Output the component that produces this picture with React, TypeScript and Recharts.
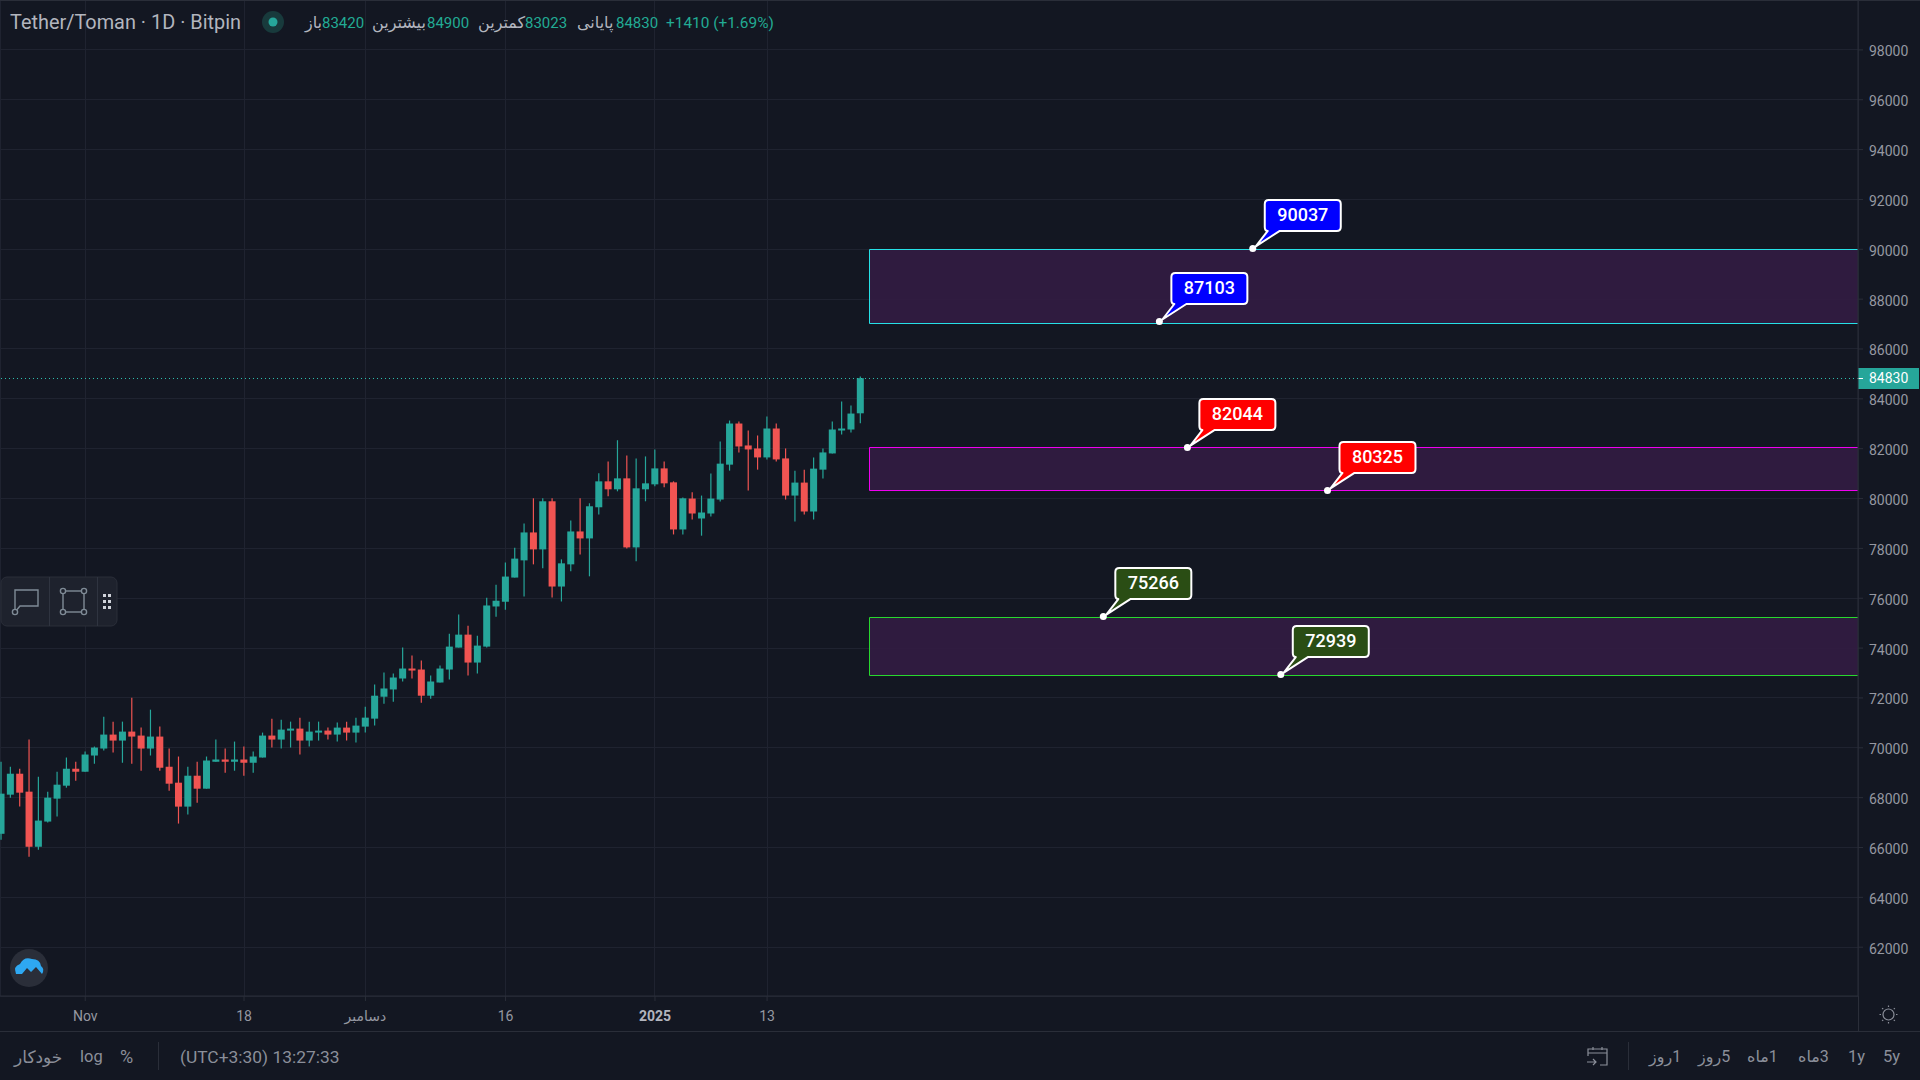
import { ComposedChart, Bar, XAxis, YAxis, CartesianGrid, ReferenceArea, ReferenceLine, ReferenceDot } from "recharts";

const UP = "#26a69a";
const DOWN = "#f05452";
const GRID = "#1f2330";
const BORDER = "#2a2e39";
const AXIS_TEXT = "#9598a1";
const BG = "#131722";
const FONT = "Roboto, 'DejaVu Sans', sans-serif";

const opens = [
    66550, 68120, 68960, 68240, 66030, 67040, 67960, 68480, 69160, 69040, 69690, 69970, 70530, 70290, 70650, 70490,
    69970, 70450, 69240, 68600, 67640, 68880, 68360, 69440, 69530, 69440, 69530, 69400, 69610, 70490, 70330, 70690,
    70770, 70290, 70610, 70690, 70530, 70810, 70610, 70850, 71170, 72050, 72340, 72780, 73180, 73140, 72090, 72620,
    73140, 74020, 74540, 73420, 74060, 75670, 75860, 76830, 77520, 78640, 77960, 79890, 76470, 77360, 78680, 78400,
    79650, 80690, 80370, 80810, 78040, 80370, 80570, 81210, 80650, 78760, 80000, 79200, 79400, 79960, 81360, 83010,
    82130, 82010, 81650, 82810, 81610, 80120, 80640, 79480, 81160, 81810, 82730, 82770, 83420,
];
const highs = [
    69440, 69240, 69160, 70330, 68840, 68240, 69040, 69610, 69440, 69850, 70050, 71250, 71050, 71050, 72010, 70810,
    71530, 70850, 69970, 69650, 69240, 69440, 69650, 70330, 69970, 70250, 70050, 69850, 70610, 71170, 71130, 71050,
    71210, 71050, 71050, 70810, 71010, 71050, 71210, 71650, 72540, 73020, 72980, 74020, 73700, 73500, 72900, 73300,
    74580, 75350, 74900, 74500, 76020, 76540, 77430, 78030, 79000, 80010, 80010, 80010, 77560, 79120, 80010, 79810,
    81010, 81490, 82340, 81730, 81610, 81690, 81970, 81490, 80690, 80040, 80250, 80120, 81000, 82290, 83130, 83090,
    82730, 82530, 83290, 83010, 82010, 81120, 81160, 81650, 82010, 83090, 83890, 83730, 84900,
];
const lows = [
    66310, 68000, 67640, 65630, 65910, 67000, 67240, 68400, 68680, 69040, 69360, 69890, 69810, 69400, 69360, 69080,
    69690, 69080, 68280, 66960, 67320, 67800, 68360, 69440, 69000, 69080, 68880, 69000, 69610, 70010, 69970, 70010,
    69730, 70050, 70290, 70330, 70250, 70290, 70210, 70610, 70890, 71770, 71850, 72660, 72780, 71810, 71970, 72620,
    72740, 74020, 72900, 72980, 74020, 75260, 75540, 76830, 76070, 77360, 77200, 76030, 75870, 77080, 77760, 76880,
    79360, 80090, 80290, 78000, 77480, 79890, 80490, 80450, 78560, 78560, 79160, 78510, 79280, 79880, 81120, 81850,
    80320, 81160, 81570, 81490, 79960, 79080, 79360, 79160, 80800, 81810, 82570, 82650, 83023,
];
const closes = [
    68160, 68960, 68200, 66030, 67080, 68000, 68520, 69160, 69040, 69730, 70010, 70530, 70290, 70650, 70450, 69970,
    70450, 69200, 68560, 67640, 68880, 68360, 69490, 69530, 69440, 69530, 69400, 69650, 70490, 70330, 70730, 70770,
    70290, 70650, 70690, 70530, 70810, 70610, 70890, 71210, 72090, 72380, 72820, 73180, 73100, 72090, 72660, 73180,
    74060, 74540, 73420, 74100, 75710, 75900, 76870, 77590, 78640, 77960, 79890, 76470, 77400, 78680, 78400, 79690,
    80690, 80370, 80810, 78040, 80410, 80610, 81210, 80610, 78760, 80010, 79400, 79440, 80000, 81400, 83010, 82090,
    81970, 81650, 82810, 81570, 80120, 80640, 79480, 81200, 81850, 82770, 82810, 83410, 84830,
];

const yTicks = [
    62000, 64000, 66000, 68000, 70000, 72000, 74000, 76000, 78000, 80000, 82000, 84000, 86000, 88000, 90000, 92000,
    94000, 96000, 98000,
];
const xTicks = [9, 26, 39, 54, 70, 82];
const xTickLabels = ["Nov", "18", "دسامبر", "16", "2025", "13"];

const zoneTops = [90010, 82060, 75266];
const zoneBottoms = [87050, 80325, 72939];
const zoneColors = ["#26e0e6", "#f000f0", "#28d82e"];
const zoneStart = 93;

const calloutValues = [90037, 87103, 82044, 80325, 75266, 72939];
const calloutIndexes = [134, 124, 127, 142, 118, 137];
const calloutColors = ["#0000ff", "#0000ff", "#ff0000", "#ff0000", "#2a4d14", "#2a4d14"];

const lastPrice = 84830;

const X_DOMAIN: [number, number] = [-0.128, 198.8];
const Y_DOMAIN: [number, number] = [60042, 100002];

const candles = opens.map((open, i) => ({
    i,
    open,
    close: closes[i],
    range: [lows[i], highs[i]],
}));

function Candle(props: any) {
    const { x, y, width, height, payload } = props;
    const color = payload.close >= payload.open ? UP : DOWN;
    const cx = x + width / 2;
    const [low, high] = payload.range;
    const perUnit = Math.abs(height) / (high - low);
    const top = Math.min(y, y + height);
    const bodyTop = top + (high - Math.max(payload.open, payload.close)) * perUnit;
    const bodyH = Math.max(Math.abs(payload.close - payload.open) * perUnit, 2);
    return (
        <g>
            <line x1={cx} x2={cx} y1={top} y2={top + Math.abs(height)} stroke={color} strokeWidth={1.2} />
            <rect x={cx - 3.5} y={bodyTop} width={7} height={bodyH} fill={color} />
        </g>
    );
}

function Zone({ x, y, width, height, color }: any) {
    const top = Math.round(y) + 0.5;
    const bottom = Math.round(y + height) + 0.5;
    const left = Math.floor(x) + 0.5;
    return (
        <g>
            <rect x={left} y={top} width={x + width - left} height={bottom - top} fill="#321c42" fillOpacity={0.92} />
            <path d={`M${x + width} ${top} H${left} V${bottom} H${x + width}`} fill="none" stroke={color} />
        </g>
    );
}

function GridLine({ x1, x2, y1, y2 }: any) {
    const snap = (v: number) => Math.floor(v) + 0.5;
    return <line x1={snap(x1)} x2={snap(x2)} y1={snap(y1)} y2={snap(y2)} stroke={GRID} />;
}

function Callout({ cx, cy, value, color }: any) {
    const path =
        "M 27 -17.5 H 84 Q 88 -17.5 88 -21.5 V -44.5 Q 88 -48.5 84 -48.5 H 16 Q 12 -48.5 12 -44.5 V -21.5 Q 12 -17.5 15 -17.5 L 3 -2 Z";
    return (
        <g transform={`translate(${cx},${cy})`}>
            <path d={path} fill={color} stroke="#ffffff" strokeWidth={2} strokeLinejoin="round" />
            <circle r={3.5} fill="#ffffff" />
            <text x={50} y={-27.5} textAnchor="middle" fill="#ffffff" fontSize={18} fontWeight={500} fontFamily={FONT}>
                {value}
            </text>
        </g>
    );
}

function PriceLine({ x1, x2, y1 }: any) {
    const y = Math.floor(y1) + 0.5;
    return (
        <g>
            <line x1={x1} x2={x2} y1={y} y2={y} stroke="#2dbfae" strokeDasharray="1 3" />
            <rect x={1858} y={y - 10.5} width={61} height={21} fill={UP} />
            <line x1={1858} x2={1863} y1={y} y2={y} stroke="#ffffff" />
            <text x={1869} y={y + 4.5} fill="#ffffff" fontSize={14} fontFamily={FONT}>
                {lastPrice}
            </text>
        </g>
    );
}

function TimeTick({ x, y, payload }: any) {
    const idx = xTicks.indexOf(payload.value);
    return (
        <text
            x={x}
            y={y + 18}
            textAnchor="middle"
            fill={idx === 4 ? "#b2b5be" : AXIS_TEXT}
            fontSize={14}
            fontWeight={idx === 4 ? 700 : 400}
            fontFamily={FONT}
        >
            {xTickLabels[idx]}
        </text>
    );
}

function Txt({ x, y, size = 14, color = AXIS_TEXT, rtl = false, children }: any) {
    return (
        <span
            style={{
                position: "absolute",
                left: x,
                top: y,
                fontSize: size,
                color,
                lineHeight: "20px",
                whiteSpace: "nowrap",
                fontFamily: FONT,
                direction: rtl ? "rtl" : "ltr",
            }}
        >
            {children}
        </span>
    );
}

function Header() {
    const teal = "#22ab94";
    const grey = "#b2b5be";
    return (
        <>
            <Txt x={10} y={13} size={19.9} color={grey}>
                Tether/Toman · 1D · Bitpin
            </Txt>
            <Txt x={305} y={13} size={16} color={grey}>باز</Txt>
            <Txt x={322} y={13} size={15} color={teal}>83420</Txt>
            <Txt x={372} y={13} size={16} color={grey}>بیشترین</Txt>
            <Txt x={427} y={13} size={15} color={teal}>84900</Txt>
            <Txt x={478} y={13} size={16} color={grey}>کمترین</Txt>
            <Txt x={525} y={13} size={15} color={teal}>83023</Txt>
            <Txt x={577} y={13} size={16} color={grey}>پایانی</Txt>
            <Txt x={616} y={13} size={15} color={teal}>84830</Txt>
            <Txt x={666} y={13} size={15.4} color={teal}>+1410 (+1.69%)</Txt>
        </>
    );
}

function Footer() {
    const grey = "#8b8f9a";
    return (
        <>
            <Txt x={14} y={1047} size={17} color={grey} rtl>خودکار</Txt>
            <Txt x={80} y={1047} size={16.5} color={grey}>log</Txt>
            <Txt x={120} y={1047} size={18} color={grey}>%</Txt>
            <Txt x={180} y={1047} size={17.4} color={grey}>(UTC+3:30) 13:27:33</Txt>
            <Txt x={1649} y={1047} size={16} color={grey} rtl>1روز</Txt>
            <Txt x={1698} y={1047} size={16} color={grey} rtl>5روز</Txt>
            <Txt x={1747} y={1047} size={16} color={grey} rtl>1ماه</Txt>
            <Txt x={1798} y={1047} size={16} color={grey} rtl>3ماه</Txt>
            <Txt x={1848} y={1047} size={16.5} color={grey}>1y</Txt>
            <Txt x={1883} y={1047} size={16.5} color={grey}>5y</Txt>
        </>
    );
}

function Decorations() {
    return (
        <svg width={1920} height={1080} style={{ position: "absolute", left: 0, top: 0, pointerEvents: "none" }}>
            <line x1={0} x2={1920} y1={0.5} y2={0.5} stroke={BORDER} />
            <line x1={0} x2={1920} y1={1031.5} y2={1031.5} stroke={BORDER} />
            <line x1={1858.5} x2={1858.5} y1={996} y2={1031} stroke={BORDER} />
            <line x1={158.5} x2={158.5} y1={1042} y2={1070} stroke={BORDER} />
            <line x1={1628.5} x2={1628.5} y1={1042} y2={1070} stroke={BORDER} />

            {/* status dot */}
            <circle cx={273} cy={22} r={11} fill="#183a3c" />
            <circle cx={273} cy={22} r={4.5} fill={UP} />

            {/* drawing toolbox */}
            <rect x={1} y={577} width={116} height={49} rx={6} fill="#1e222d" stroke="#2a2e39" />
            <line x1={49.5} x2={49.5} y1={577} y2={626} stroke="#2f3440" />
            <line x1={97.5} x2={97.5} y1={577} y2={626} stroke="#2f3440" />
            <path d="M15 612 V590 H38 V606 H20 Z" fill="none" stroke="#7f8b96" strokeWidth={1.4} />
            <circle cx={15} cy={612} r={2.6} fill="#1e222d" stroke="#7f8b96" strokeWidth={1.4} />
            <rect x={63} y={591} width={21} height={21} fill="none" stroke="#7f8b96" strokeWidth={1.4} />
            {[[63, 591], [84, 591], [63, 612], [84, 612]].map(([cx, cy]) => (
                <circle key={`${cx}-${cy}`} cx={cx} cy={cy} r={2.6} fill="#1e222d" stroke="#7f8b96" strokeWidth={1.4} />
            ))}
            {[595, 601, 607].map((cy) => (
                <g key={cy}>
                    <rect x={103} y={cy - 1} width={3} height={3} fill="#d0d3da" />
                    <rect x={108} y={cy - 1} width={3} height={3} fill="#d0d3da" />
                </g>
            ))}

            {/* logo */}
            <circle cx={29} cy={968} r={19} fill="#2a2e39" />
            <path
                d="M16 974 Q13 966 20 964 Q24 956 32 959 Q40 959 41 966 Q45 969 42 974 L36 967 L31 972 L27 968 L22 974 Z"
                fill="#2ea8f2"
            />

            {/* settings gear */}
            <circle cx={1888.5} cy={1014.5} r={5.5} fill="none" stroke="#8b8f9a" strokeWidth={1.2} />
            {[0, 45, 90, 135, 180, 225, 270, 315].map((a) => (
                <line
                    key={a}
                    x1={1888.5}
                    x2={1888.5}
                    y1={1007}
                    y2={1005.5}
                    stroke="#8b8f9a"
                    strokeWidth={1.2}
                    transform={`rotate(${a} 1888.5 1014.5)`}
                />
            ))}

            {/* go to date */}
            <path
                d="M1588 1056 V1049 H1607 V1065 H1600 M1588 1053 H1607 M1593 1047 V1050 M1602 1047 V1050 M1587 1062 H1596 M1593 1059 L1596 1062 L1593 1065"
                fill="none"
                stroke="#8b8f9a"
                strokeWidth={1.2}
            />
        </svg>
    );
}

export default function App() {
    return (
        <div style={{ position: "absolute", left: 0, top: 0, width: 1920, height: 1080, background: BG, overflow: "hidden" }}>
            <ComposedChart
                width={1920}
                height={1031}
                data={candles}
                margin={{ top: 0, right: 0, bottom: 0, left: 0 }}
            >
                <CartesianGrid horizontal={(p: any) => <GridLine {...p} />} vertical={(p: any) => <GridLine {...p} />} />
                <XAxis
                    type="number"
                    dataKey="i"
                    domain={X_DOMAIN}
                    allowDataOverflow
                    ticks={xTicks}
                    interval={0}
                    height={35}
                    stroke={BORDER}
                    tickSize={5}
                    tick={<TimeTick />}
                />
                <YAxis
                    orientation="right"
                    domain={Y_DOMAIN}
                    allowDataOverflow
                    ticks={yTicks}
                    interval={0}
                    width={62}
                    stroke={BORDER}
                    tickSize={5}
                    tickMargin={6}
                    tick={{ fill: AXIS_TEXT, fontSize: 14, fontFamily: FONT, dy: 1.5 }}
                />
                {zoneTops.map((top, z) => (
                    <ReferenceArea
                        key={top}
                        x1={zoneStart}
                        x2={X_DOMAIN[1]}
                        y1={zoneBottoms[z]}
                        y2={top}
                        shape={(p: any) => <Zone {...p} color={zoneColors[z]} />}
                    />
                ))}
                <ReferenceLine y={lastPrice} shape={(p: any) => <PriceLine {...p} />} />
                <Bar dataKey="range" barSize={7} shape={<Candle />} isAnimationActive={false} />
                {calloutValues.map((value, c) => (
                    <ReferenceDot
                        key={value}
                        x={calloutIndexes[c]}
                        y={value}
                        shape={(p: any) => <Callout {...p} value={value} color={calloutColors[c]} />}
                    />
                ))}
            </ComposedChart>
            <Decorations />
            <Header />
            <Footer />
        </div>
    );
}
